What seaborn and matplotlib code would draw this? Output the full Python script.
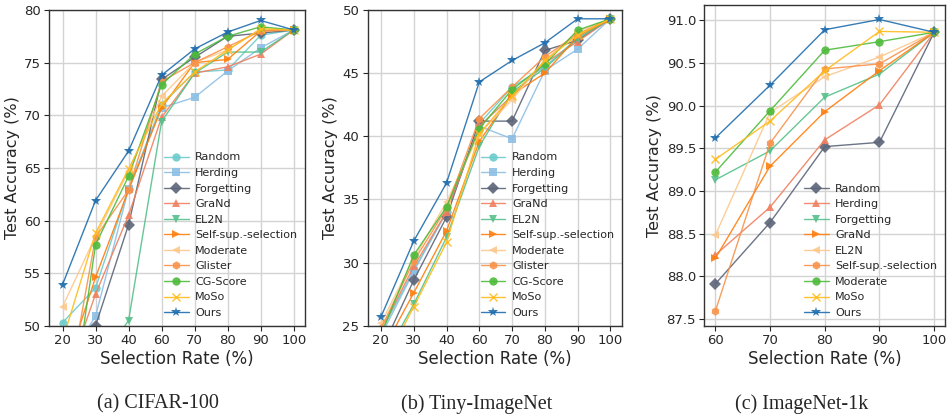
import matplotlib
matplotlib.use('Agg')
import matplotlib.pyplot as plt
import numpy as np
import seaborn as sns

# Selection rates (categorical positions on the x axis)
rates_small = [20, 30, 40, 60, 70, 80, 90, 100]
rates_in1k = [60, 70, 80, 90, 100]

methods = ['Random', 'Herding', 'Forgetting', 'GraNd', 'EL2N', 'Self-sup.-selection',
           'Moderate', 'Glister', 'CG-Score', 'MoSo', 'Ours']
methods_in1k = ['Random', 'Herding', 'Forgetting', 'GraNd', 'EL2N', 'Self-sup.-selection',
                'Moderate', 'MoSo', 'Ours']

# CIFAR-100 test accuracy (%)
cifar = {
    'Random':              [50.3, 53.6, 63.0, 71.0, 74.1, 74.3, 77.6, 78.1],
    'Herding':             [46.0, 50.9, 63.0, 70.7, 71.7, 74.2, 76.4, 78.1],
    'Forgetting':          [44.0, 50.0, 59.6, 73.4, 75.5, 77.5, 77.8, 78.1],
    'GraNd':               [44.0, 53.0, 60.5, 69.8, 74.0, 74.6, 75.8, 78.1],
    'EL2N':                [38.0, 46.0, 50.5, 69.4, 74.0, 76.0, 76.0, 78.1],
    'Self-sup.-selection': [45.0, 54.6, 62.9, 70.7, 75.0, 75.3, 78.0, 78.1],
    'Moderate':            [51.8, 58.5, 64.7, 71.8, 75.0, 76.2, 78.2, 78.1],
    'Glister':             [41.0, 58.4, 62.9, 73.2, 75.0, 76.5, 78.0, 78.1],
    'CG-Score':            [36.0, 57.7, 64.2, 72.9, 75.8, 77.5, 78.4, 78.1],
    'MoSo':                [48.6, 58.8, 64.9, 71.1, 74.1, 76.2, 78.2, 78.1],
    'Ours':                [53.9, 61.9, 66.6, 73.8, 76.3, 77.9, 79.0, 78.1],
}

# Tiny-ImageNet test accuracy (%)
tiny = {
    'Random':              [24.5, 29.4, 34.0, 41.0, 43.9, 45.5, 47.8, 49.3],
    'Herding':             [24.2, 29.3, 34.0, 40.8, 39.8, 45.2, 46.9, 49.3],
    'Forgetting':          [23.0, 28.6, 33.6, 41.2, 41.2, 46.8, 47.6, 49.3],
    'GraNd':               [24.6, 29.7, 34.0, 40.8, 43.2, 45.8, 47.5, 49.3],
    'EL2N':                [22.0, 26.7, 32.0, 39.2, 43.5, 45.4, 47.7, 49.3],
    'Self-sup.-selection': [22.8, 27.6, 32.5, 39.6, 43.3, 45.0, 47.9, 49.3],
    'Moderate':            [25.2, 30.3, 34.8, 40.2, 42.9, 46.0, 48.3, 49.3],
    'Glister':             [24.8, 30.1, 34.3, 41.4, 43.9, 46.3, 48.1, 49.3],
    'CG-Score':            [24.3, 30.6, 34.4, 40.6, 43.7, 45.7, 48.4, 49.3],
    'MoSo':                [21.5, 26.5, 31.6, 40.2, 43.2, 46.0, 48.0, 49.3],
    'Ours':                [25.7, 31.7, 36.3, 44.3, 46.0, 47.4, 49.3, 49.3],
}

# ImageNet-1k test accuracy (%)
in1k = {
    'Random':              [87.91, 88.63, 89.52, 89.57, 90.86],
    'Herding':             [88.25, 88.81, 89.60, 90.01, 90.86],
    'Forgetting':          [89.13, 89.47, 90.10, 90.37, 90.86],
    'GraNd':               [88.21, 89.29, 89.93, 90.41, 90.86],
    'EL2N':                [88.48, 89.92, 90.34, 90.57, 90.86],
    'Self-sup.-selection': [87.59, 89.56, 90.43, 90.49, 90.86],
    'Moderate':            [89.22, 89.94, 90.65, 90.75, 90.86],
    'MoSo':                [89.37, 89.82, 90.41, 90.87, 90.86],
    'Ours':                [89.62, 90.24, 90.89, 91.01, 90.86],
}

# line styles, in the order used by the first two panels
colors = ['#6ccbcb', '#8dbfe4', '#5b6478', '#f0805f', '#55c08a', '#ff7f0e',
          '#fdc88c', '#f8924a', '#4dbb3b', '#ffbb1c', '#1f6dad']
markers = ['o', 's', 'D', '^', 'v', '>', '<', 'h', 'o', 'x', '*']

sns.set_style('ticks')
plt.rcParams['font.family'] = ['DejaVu Sans']

fig = plt.figure(figsize=(9.48, 4.15), dpi=100)
ax1 = fig.add_axes([0.052, 0.215, 0.270, 0.761])
ax2 = fig.add_axes([0.388, 0.215, 0.268, 0.761])
ax3 = fig.add_axes([0.743, 0.215, 0.254, 0.773])


def draw_panel(ax, rates, names, data, style_offset):
    xs = np.arange(len(rates))
    for i, name in enumerate(names):
        k = i + style_offset
        ms = 7 if markers[k] == '*' else 6
        sns.lineplot(x=xs, y=data[name], ax=ax, color=colors[k], marker=markers[k],
                     markersize=ms, markeredgewidth=1.0 if markers[k] == 'x' else 0,
                     markeredgecolor=colors[k], linewidth=1.0, alpha=0.9, label=name)
    ax.set_xticks(xs)
    ax.set_xticklabels([str(r) for r in rates])
    ax.grid(True, color='#d3d3d3', linewidth=1.0)
    ax.set_axisbelow(True)
    ax.tick_params(labelsize=9.5, length=3.5, pad=2.5)
    ax.set_xlabel('Selection Rate (%)', fontsize=12, labelpad=2)
    ax.set_ylabel('Test Accuracy (%)', fontsize=11.5, labelpad=3)
    for s in ax.spines.values():
        s.set_color('#333333')
        s.set_linewidth(1.0)
    ax.legend(loc='lower right', frameon=False, fontsize=8, handlelength=2.2,
              labelspacing=0.5, borderaxespad=0.3, handletextpad=0.6)


draw_panel(ax1, rates_small, methods, cifar, 0)
ax1.set_ylim(50, 80)
ax1.set_xlim(-0.4, 7.35)

draw_panel(ax2, rates_small, methods, tiny, 0)
ax2.set_ylim(25, 50)
ax2.set_xlim(-0.4, 7.35)

draw_panel(ax3, rates_in1k, methods_in1k, in1k, 2)
ax3.set_ylim(87.42, 91.18)
ax3.set_yticks([87.5, 88.0, 88.5, 89.0, 89.5, 90.0, 90.5, 91.0])
ax3.set_yticklabels(['87.5', '88.0', '88.5', '89.0', '89.5', '90.0', '90.5', '91.0'])

captions = ['(a) CIFAR-100', '(b) Tiny-ImageNet', '(c) ImageNet-1k']
for xc, cap in zip([0.167, 0.503, 0.846], captions):
    fig.text(xc, 0.027, cap, ha='center', va='center', fontsize=14.5,
             family=['Liberation Serif', 'DejaVu Serif'])

fig.savefig('out.png', dpi=100)
